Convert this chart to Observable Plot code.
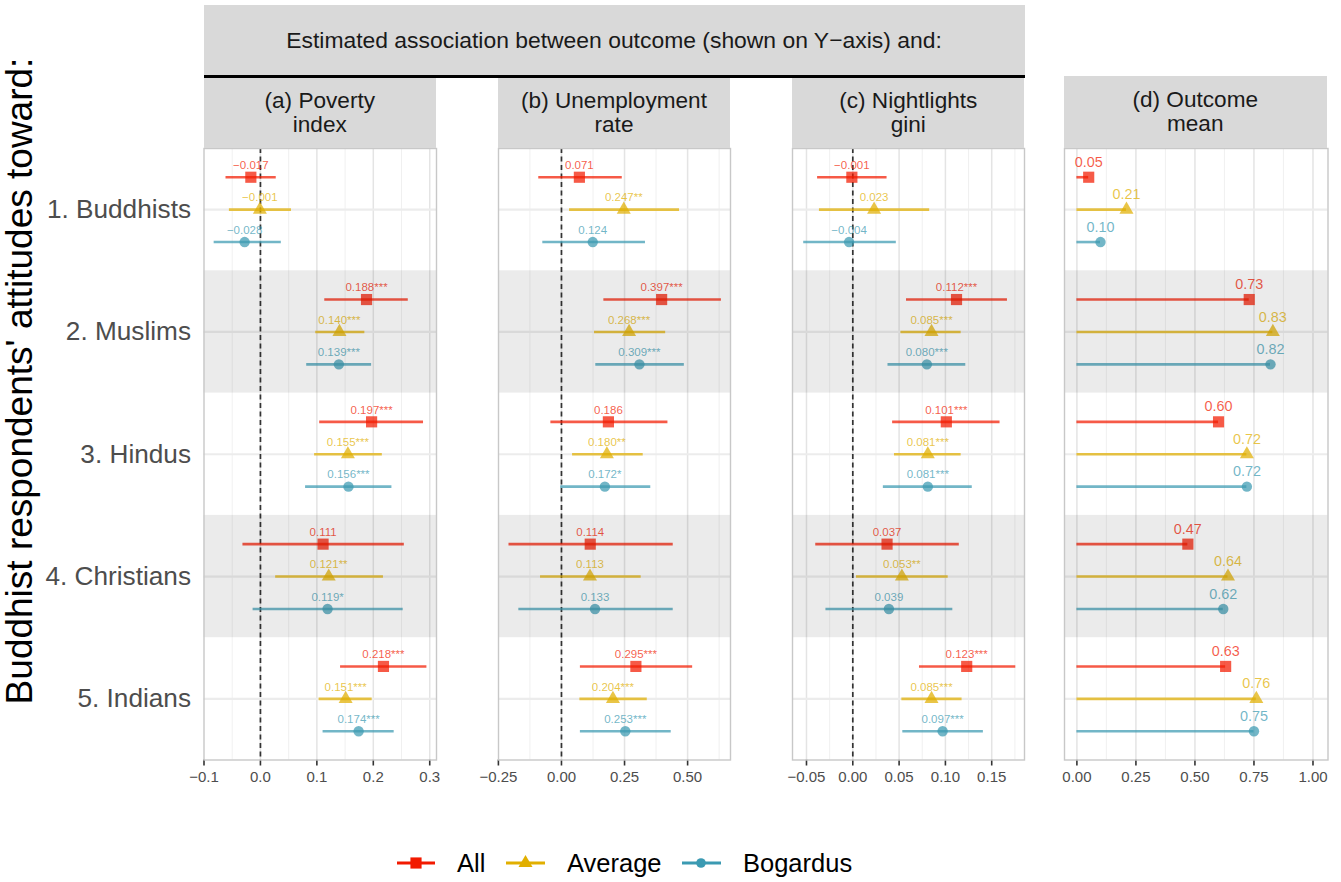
<!DOCTYPE html>
<html><head><meta charset="utf-8">
<script src="https://cdn.jsdelivr.net/npm/d3@7"></script>
<script src="https://cdn.jsdelivr.net/npm/@observablehq/plot@0.6"></script>
<style>
body{margin:0;background:#fff;font-family:"Liberation Sans",Arial,Helvetica,sans-serif;}
#root{position:relative;width:1341px;height:882px;overflow:hidden;background:#fff}
.strip{position:absolute;background:#d9d9d9;color:#1a1a1a;font-size:22.6px;display:flex;align-items:center;justify-content:center;text-align:center;line-height:24px;white-space:pre-line}
.strip.top{font-size:22.9px}
.panel{position:absolute}
.panel [aria-label^="y-axis"] text{font-size:26.2px;fill:#4d4d4d}
.panel [aria-label^="x-axis"] line,.panel [aria-label="x-axis tick"] path{stroke:#333;stroke-width:1.6}
#ytitle{position:absolute;left:20px;top:381px;transform:translate(-50%,-50%) rotate(-90deg);white-space:nowrap;font-size:37px;line-height:40px;color:#000}
</style></head>
<body><div id="root"></div>
<script>
// ---------- data ----------
const categories = ["1. Buddhists", "2. Muslims", "3. Hindus", "4. Christians", "5. Indians"];
const groups = ["All", "Average", "Bogardus"];
const groupColors = ["#F21A00", "#E1AF00", "#3B9AB2"];
const groupSymbols = ["square", "triangle", "circle"];
const shadedCategories = ["2. Muslims", "4. Christians"];

// (a) Poverty index  — rows: All, Average, Bogardus; columns: categories
const povertyEst   = [[-0.017, 0.188, 0.197, 0.111, 0.218], [-0.001, 0.140, 0.155, 0.121, 0.151], [-0.028, 0.139, 0.156, 0.119, 0.174]];
const povertyLow   = [[-0.061, 0.114, 0.105, -0.031, 0.142], [-0.055, 0.098, 0.096, 0.027, 0.104], [-0.082, 0.082, 0.080, -0.013, 0.111]];
const povertyHigh  = [[0.028, 0.262, 0.289, 0.255, 0.295], [0.055, 0.185, 0.216, 0.218, 0.198], [0.037, 0.197, 0.233, 0.253, 0.237]];
const povertyStars = [["", "***", "***", "", "***"], ["", "***", "***", "**", "***"], ["", "***", "***", "*", "***"]];

// (b) Unemployment rate
const unempEst   = [[0.071, 0.397, 0.186, 0.114, 0.295], [0.247, 0.268, 0.180, 0.113, 0.204], [0.124, 0.309, 0.172, 0.133, 0.253]];
const unempLow   = [[-0.090, 0.168, -0.042, -0.208, 0.075], [0.032, 0.131, 0.044, -0.083, 0.073], [-0.074, 0.136, -0.003, -0.169, 0.075]];
const unempHigh  = [[0.241, 0.634, 0.422, 0.443, 0.520], [0.468, 0.413, 0.324, 0.316, 0.340], [0.333, 0.487, 0.354, 0.443, 0.435]];
const unempStars = [["", "***", "", "", "***"], ["**", "***", "**", "", "***"], ["", "***", "*", "", "***"]];

// (c) Nightlights gini
const giniEst   = [[-0.001, 0.112, 0.101, 0.037, 0.123], [0.023, 0.085, 0.081, 0.053, 0.085], [-0.004, 0.080, 0.081, 0.039, 0.097]];
const giniLow   = [[-0.038, 0.058, 0.043, -0.040, 0.072], [-0.036, 0.052, 0.045, 0.004, 0.053], [-0.053, 0.038, 0.033, -0.029, 0.054]];
const giniHigh  = [[0.037, 0.167, 0.159, 0.115, 0.176], [0.083, 0.117, 0.117, 0.103, 0.118], [0.047, 0.122, 0.129, 0.108, 0.141]];
const giniStars = [["", "***", "***", "", "***"], ["", "***", "***", "**", "***"], ["", "***", "***", "", "***"]];

// (d) Outcome mean
const outcomeMean = [[0.05, 0.73, 0.60, 0.47, 0.63], [0.21, 0.83, 0.72, 0.64, 0.76], [0.10, 0.82, 0.72, 0.62, 0.75]];

// axis ticks
const povertyTicks = [-0.1, 0, 0.1, 0.2, 0.3];
const unempTicks = [-0.25, 0, 0.25, 0.5];
const giniTicks = [-0.05, 0, 0.05, 0.10, 0.15];
const meanTicks = [0, 0.25, 0.5, 0.75, 1.0];

const headerTitle = "Estimated association between outcome (shown on Y\u2212axis) and:";
const panelTitles = ["(a) Poverty\nindex", "(b) Unemployment\nrate", "(c) Nightlights\ngini", "(d) Outcome\nmean"];
const yTitle = "Buddhist respondents' attitudes toward:";

// ---------- layout ----------
const FONT = '"Liberation Sans", Arial, Helvetica, sans-serif';
const TOP = 148, FRAME_H = 611.5, MB = 50;
const GROUP_OFFSET = 0.265;
const root = document.getElementById("root");

function buildRows(est, low, high, stars, fmt) {
  const rows = [];
  groups.forEach((g, gi) => categories.forEach((c, ci) => {
    rows.push({
      group: g, gi, category: c, ci,
      pos: ci + (gi - 1) * GROUP_OFFSET,
      est: est[gi][ci],
      low: low ? low[gi][ci] : 0,
      high: high ? high[gi][ci] : est[gi][ci],
      label: fmt(est[gi][ci]) + (stars ? stars[gi][ci] : "")
    });
  }));
  return rows;
}

function minorOf(ticks, domain) {
  const step = ticks[1] - ticks[0];
  const out = [];
  for (let i = -1; i < ticks.length; i++) {
    const v = ticks[0] + (i + 0.5) * step;
    if (v > domain[0] && v < domain[1]) out.push(v);
  }
  return out;
}

function panel({rows, domain, ticks, tickFmt, showY, zero, labelSize, labelDy, frameLeft, frameWidth}) {
  const mL = showY ? frameLeft : 10, mR = 10;
  const catIdx = categories.map((c, i) => i);
  const shaded = categories.map((c, i) => ({c, i})).filter(d => shadedCategories.includes(d.c));
  const marks = [
    Plot.ruleX(minorOf(ticks, domain), {stroke: "#eeeeee", strokeWidth: 0.9}),
    Plot.ruleX(ticks.filter(t => t > domain[0] && t < domain[1]), {stroke: "#e4e4e4", strokeWidth: 1.5}),
    Plot.ruleY(catIdx, {stroke: "#ececec", strokeWidth: 2.2})
  ];
  if (zero) marks.push(Plot.ruleX([0], {stroke: "#333333", strokeWidth: 1.7, strokeDasharray: "5,3.5"}));
  groups.forEach((g, gi) => {
    const data = rows.filter(r => r.gi === gi);
    marks.push(Plot.ruleY(data, {x1: "low", x2: "high", y: "pos", stroke: groupColors[gi], strokeOpacity: 0.72, strokeWidth: 2.6}));
  });
  groups.forEach((g, gi) => {
    const data = rows.filter(r => r.gi === gi);
    const r = groupSymbols[gi] === "square" ? 6.3 : 5.2;
    marks.push(Plot.dot(data, {x: "est", y: "pos", symbol: groupSymbols[gi], r, fill: groupColors[gi], fillOpacity: 0.72, stroke: "none"}));
    marks.push(Plot.text(data, {x: "est", y: "pos", text: "label", dy: labelDy, fill: groupColors[gi], fillOpacity: 0.72, fontSize: labelSize}));
  });
  marks.push(Plot.rect(shaded, {x1: () => domain[0], x2: () => domain[1], y1: d => d.i - 0.5, y2: d => d.i + 0.5, fill: "#000", fillOpacity: 0.078}));
  marks.push(Plot.frame({stroke: "#c8c8c8", strokeWidth: 1.4}));

  const svg = Plot.plot({
    width: frameWidth + mL + mR,
    height: FRAME_H + MB,
    marginLeft: mL, marginRight: mR, marginTop: 0, marginBottom: MB,
    style: {fontFamily: FONT, fontSize: "15px", color: "#4d4d4d", background: "transparent", overflow: "visible"},
    x: {domain, ticks, tickFormat: tickFmt, tickSize: 6, tickPadding: 5, label: null},
    y: showY
      ? {domain: [4.5, -0.5], ticks: catIdx, tickFormat: i => categories[i], tickSize: 0, tickPadding: 13, label: null}
      : {domain: [4.5, -0.5], axis: null},
    marks
  });
  const wrap = document.createElement("div");
  wrap.className = "panel";
  wrap.style.left = (frameLeft - mL) + "px";
  wrap.style.top = TOP + "px";
  wrap.appendChild(svg);
  root.appendChild(wrap);
}

const f3 = d3.format(".3f"), f2 = d3.format(".2f"), f1 = d3.format(".1f");

panel({rows: buildRows(povertyEst, povertyLow, povertyHigh, povertyStars, f3), domain: [-0.1, 0.312], ticks: povertyTicks, tickFmt: f1,
  showY: true, zero: true, labelSize: 11.5, labelDy: -12, frameLeft: 203.5, frameWidth: 232.5});
panel({rows: buildRows(unempEst, unempLow, unempHigh, unempStars, f3), domain: [-0.2496, 0.670], ticks: unempTicks, tickFmt: f2,
  showY: false, zero: true, labelSize: 11.5, labelDy: -12, frameLeft: 498, frameWidth: 232});
panel({rows: buildRows(giniEst, giniLow, giniHigh, giniStars, f3), domain: [-0.0651, 0.1854], ticks: giniTicks, tickFmt: f2,
  showY: false, zero: true, labelSize: 11.5, labelDy: -12, frameLeft: 792.3, frameWidth: 232});
panel({rows: buildRows(outcomeMean, null, null, null, f2), domain: [-0.0525, 1.0636], ticks: meanTicks, tickFmt: f2,
  showY: false, zero: false, labelSize: 14.4, labelDy: -15, frameLeft: 1063.5, frameWidth: 263.5});

// ---------- strips ----------
function strip(text, l, t, w, h, cls) {
  const d = document.createElement("div");
  d.className = "strip" + (cls ? " " + cls : "");
  d.style.left = l + "px"; d.style.top = t + "px"; d.style.width = w + "px"; d.style.height = h + "px";
  d.textContent = text;
  root.appendChild(d);
  return d;
}
strip(headerTitle, 203.5, 5, 821, 70, "top");
const line = document.createElement("div");
line.style.cssText = "position:absolute;left:203.5px;top:74.8px;width:821px;height:2.8px;background:#000";
root.appendChild(line);
strip(panelTitles[0], 203.5, 77.6, 232.5, 70.4);
strip(panelTitles[1], 498, 77.6, 232, 70.4);
strip(panelTitles[2], 792.3, 77.6, 232, 70.4);
strip(panelTitles[3], 1063.5, 76, 263.5, 72);

// ---------- y title ----------
const yt = document.createElement("div");
yt.id = "ytitle"; yt.textContent = yTitle;
root.appendChild(yt);

// ---------- legend ----------
const leg = d3.select(root).append("svg")
  .attr("width", 1341).attr("height", 44)
  .style("position", "absolute").style("left", "0px").style("top", "841px");
const legX = [[397, 435, 416, 457], [506, 545, 525.5, 567], [682, 721, 701, 743]];
const symMap = {square: d3.symbolSquare, triangle: d3.symbolTriangle, circle: d3.symbolCircle};
groups.forEach((g, gi) => {
  const [x1, x2, cx, tx] = legX[gi];
  leg.append("line").attr("x1", x1).attr("x2", x2).attr("y1", 22).attr("y2", 22)
    .attr("stroke", groupColors[gi]).attr("stroke-width", 3);
  const rr = groupSymbols[gi] === "square" ? 6.3 : (groupSymbols[gi] === "triangle" ? 5.2 : 4.8);
  leg.append("path").attr("d", d3.symbol(symMap[groupSymbols[gi]], Math.PI * rr * rr)())
    .attr("transform", `translate(${cx},22)`).attr("fill", groupColors[gi]);
  leg.append("text").attr("x", tx).attr("y", 22).attr("dy", "0.36em")
    .attr("font-size", 25.5).attr("font-family", FONT).attr("fill", "#000").text(g);
});
</script>
</body></html>
